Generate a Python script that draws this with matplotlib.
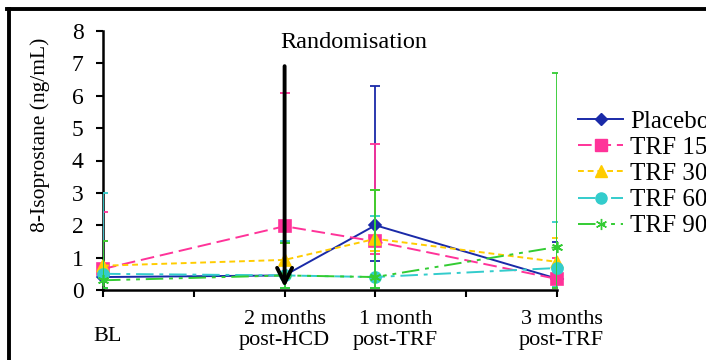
import matplotlib.pyplot as plt
import numpy as np
from matplotlib.lines import Line2D

plt.rcParams['font.family'] = ['Liberation Serif', 'DejaVu Serif']

# time points (x positions on a 0..5 axis)
x_pos = [0, 2, 3, 5]
tick_labels = ['BL', '2 months\npost-HCD', '1 month\npost-TRF', '3 months\npost-TRF']

series = ['Placebo', 'TRF 150', 'TRF 300', 'TRF 600', 'TRF 900']
placebo = [0.40, 0.45, 2.00, 0.35]
trf150 = [0.65, 1.97, 1.50, 0.34]
trf300 = [0.75, 0.93, 1.58, 0.87]
trf600 = [0.50, 0.45, 0.40, 0.68]
trf900 = [0.30, 0.45, 0.40, 1.33]

# upper / lower ends of error bars
placebo_hi = [0.45, 0.50, 6.30, 1.47]
placebo_lo = [0.35, 0.40, 0.90, 0.10]
trf150_hi = [2.40, 6.10, 4.50, 1.00]
trf150_lo = [0.50, 1.48, 1.10, 0.05]
trf300_hi = [1.50, 1.45, 3.10, 1.60]
trf300_lo = [0.50, 0.50, 1.20, 0.10]
trf600_hi = [3.00, 1.50, 2.30, 2.10]
trf600_lo = [0.05, 0.05, 0.05, 0.10]
trf900_hi = [1.50, 1.45, 3.10, 6.70]
trf900_lo = [0.05, 0.05, 0.05, 0.05]

colors = ['#1a2aa8', '#ff3399', '#ffcc00', '#33cccc', '#33cc33']
markers = ['D', 's', '^', 'o', (6, 2, 0)]
msizes = [6, 8, 8, 8, 8]
dashes = [(None, None), (7, 3), (3, 2), (9, 3, 2, 3), (9, 3, 2, 3, 2, 3)]

vals = [placebo, trf150, trf300, trf600, trf900]
his = [placebo_hi, trf150_hi, trf300_hi, trf600_hi, trf900_hi]
los = [placebo_lo, trf150_lo, trf300_lo, trf600_lo, trf900_lo]

fig = plt.figure(figsize=(7.06, 3.6), dpi=100)
ax = fig.add_axes([103 / 706, 70 / 360, 454 / 706, 259 / 360])

for i in range(len(series)):
    v = np.array(vals[i])
    err = [v - np.array(los[i]), np.array(his[i]) - v]
    ax.errorbar(x_pos, v, yerr=err, fmt='none', ecolor=colors[i],
                elinewidth=1.3, capsize=3.5, capthick=1.3, zorder=2 + i)
    ls = '-' if i == 0 else (0, dashes[i])
    ax.plot(x_pos, v, color=colors[i], linestyle=ls, lw=1.4,
            marker=markers[i], markersize=msizes[i],
            markeredgecolor=colors[i], markerfacecolor=colors[i],
            markeredgewidth=1.2, zorder=3 + i, clip_on=False)

# randomisation arrow
ax.annotate('', xy=(2, 0), xytext=(2, 7),
            arrowprops=dict(arrowstyle='->', lw=2.8, color='black',
                            mutation_scale=27), zorder=10)
ax.text(2.76, 7.65, 'Randomisation', ha='center', va='center', fontsize=17.5)

ax.set_xlim(0, 5)
ax.set_ylim(0, 8)
ax.set_yticks(range(0, 9))
ax.set_xticks(range(0, 6))
ax.set_xticklabels([])
ax.tick_params(axis='y', labelsize=17, direction='out', length=5, width=1.5, pad=9)
ax.tick_params(axis='x', direction='out', length=5, width=1.5)
for s in ['top', 'right']:
    ax.spines[s].set_visible(False)
for s in ['left', 'bottom']:
    ax.spines[s].set_linewidth(1.8)
ax.set_ylabel('8-Isoprostane (ng/mL)', fontsize=15.5)
ax.yaxis.set_label_coords(-0.117, 0.6)

# category labels below the axis
trans = ax.get_xaxis_transform()
label_x = [0.05, 2.0, 3.22, 5.05]
for lx, lab in zip(label_x, tick_labels):
    if lab == 'BL':
        ax.text(lx, -0.178, lab, transform=trans, ha='center', va='center', fontsize=16)
    else:
        ax.text(lx, -0.076, lab, transform=trans, ha='center', va='top',
                fontsize=16, linespacing=1.2)

# legend
handles = []
for i in range(len(series)):
    ls = '-' if i == 0 else (0, dashes[i])
    handles.append(Line2D([], [], color=colors[i], linestyle=ls, lw=1.4,
                          marker=markers[i], markersize=msizes[i],
                          markerfacecolor=colors[i], markeredgecolor=colors[i]))
fig.legend(handles, series, loc='upper left', bbox_to_anchor=(578 / 706, 250 / 360),
           frameon=False, fontsize=18, handlelength=1.8, handletextpad=0.28,
           labelspacing=0.15, borderpad=0, borderaxespad=0)

# border of the original frame
fig.add_artist(Line2D([8.5 / 706, 8.5 / 706], [0, 351 / 360], color='black', lw=2.8,
                      transform=fig.transFigure))
fig.add_artist(Line2D([7 / 706, 1], [351 / 360, 351 / 360], color='black', lw=2.8,
                      transform=fig.transFigure))

fig.savefig('out.png', dpi=100)
